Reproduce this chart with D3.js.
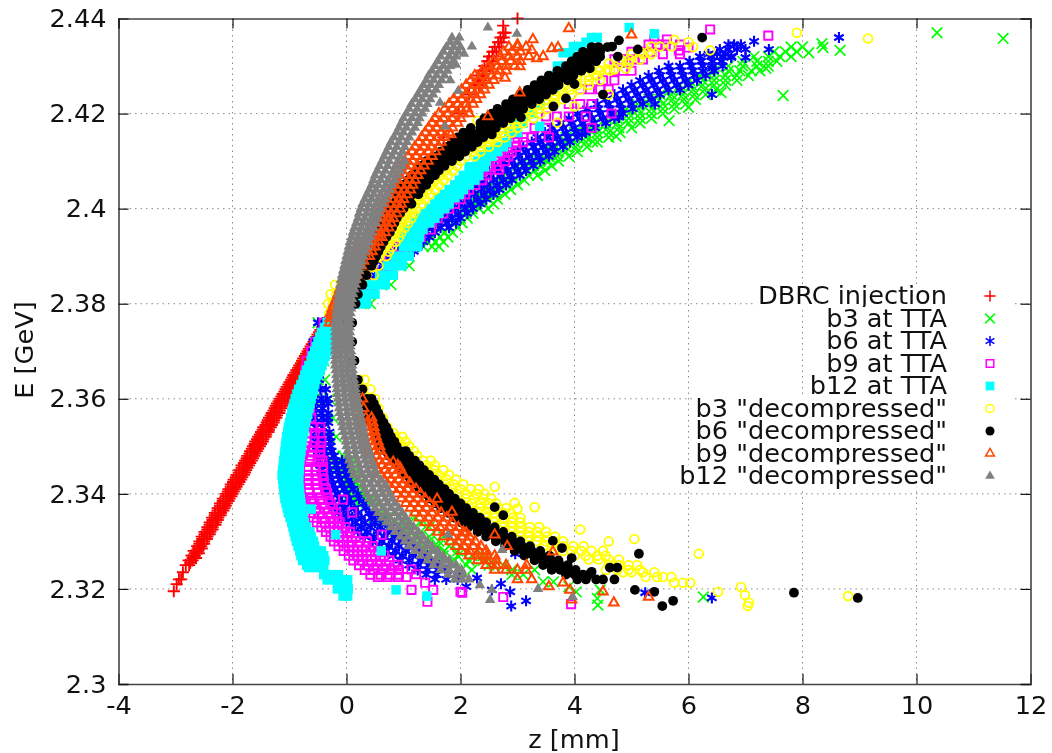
<!DOCTYPE html>
<html>
<head>
<meta charset="utf-8">
<script src="https://cdn.jsdelivr.net/npm/d3@7"></script>
<style>
  html, body { margin: 0; padding: 0; background: #fff; }
  svg { display: block; filter: blur(0.35px); }
  text { font-family: "DejaVu Sans", sans-serif; fill: #111; }
</style>
</head>
<body>
<svg id="chart" width="1052" height="753"></svg>
<script>
// tick labels
var xTicks = [-4, -2, 0, 2, 4, 6, 8, 10, 12];
var yTicks = [2.3, 2.32, 2.34, 2.36, 2.38, 2.4, 2.42, 2.44];

// every row below is [E, z, z, z ...]
var dbrcInjection = [
  [2.3195,-3.03],[2.321,-2.98],[2.322,-2.94,-2.9],[2.3235,-2.87],[2.325,-2.82,-2.76],[2.326,-2.77,-2.7],[2.327,-2.72,-2.66],
  [2.328,-2.68,-2.6],[2.329,-2.62,-2.55],[2.33,-2.58,-2.5],[2.331,-2.54,-2.44],[2.332,-2.49,-2.39],[2.333,-2.44,-2.35],[2.334,-2.4,-2.29],
  [2.335,-2.36,-2.25],[2.336,-2.31,-2.2],[2.337,-2.26,-2.14],[2.338,-2.22,-2.1],[2.339,-2.17,-2.05],[2.34,-2.12,-2.0],[2.341,-2.07,-1.95],
  [2.342,-2.03,-1.9],[2.343,-1.98,-1.85],[2.344,-1.93,-1.8],[2.345,-1.88,-1.76],[2.346,-1.84,-1.71],[2.347,-1.78,-1.66],[2.348,-1.74,-1.62],
  [2.349,-1.69,-1.57],[2.35,-1.64,-1.52],[2.351,-1.6,-1.47],[2.352,-1.55,-1.42],[2.353,-1.5,-1.37],[2.354,-1.46,-1.33],[2.355,-1.4,-1.28],
  [2.356,-1.36,-1.23],[2.357,-1.31,-1.18],[2.358,-1.26,-1.14],[2.359,-1.22,-1.09],[2.36,-1.17,-1.04],[2.361,-1.12,-1.0],[2.362,-1.07,-.95],
  [2.363,-1.02,-.9],[2.364,-.97,-.86],[2.365,-.93,-.81],[2.366,-.88,-.76],[2.367,-.83,-.72],[2.368,-.78,-.67],[2.369,-.73,-.63],
  [2.37,-.68,-.58],[2.371,-.63,-.54],[2.372,-.58,-.49],[2.373,-.53,-.45],[2.374,-.48,-.4],[2.375,-.43,-.36],[2.376,-.38,-.31],
  [2.3255,-2.74],[2.3265,-2.7,-2.64],[2.3275,-2.66,-2.59],[2.3285,-2.61,-2.54],[2.3295,-2.58,-2.5],[2.3305,-2.53,-2.45],[2.3315,-2.49,-2.4],[2.3325,-2.44,-2.35],
  [2.3335,-2.4,-2.3],[2.3345,-2.35,-2.26],[2.3355,-2.31,-2.21],[2.3365,-2.26,-2.16],[2.3375,-2.22,-2.12],[2.3385,-2.17,-2.07],[2.3395,-2.12,-2.02],[2.3405,-2.08,-1.98],
  [2.3415,-2.03,-1.93],[2.3425,-1.99,-1.88],[2.3435,-1.94,-1.83],[2.3445,-1.89,-1.78],[2.3455,-1.84,-1.74],[2.3465,-1.8,-1.69],[2.3475,-1.75,-1.64],[2.3485,-1.7,-1.6],
  [2.3495,-1.66,-1.55],[2.3505,-1.61,-1.5],[2.3515,-1.57,-1.46],[2.3525,-1.52,-1.41],[2.3535,-1.47,-1.36],[2.3545,-1.42,-1.31],[2.3555,-1.38,-1.27],[2.3565,-1.33,-1.22],
  [2.3575,-1.28,-1.17],[2.3585,-1.24,-1.13],[2.3595,-1.19,-1.08],[2.3605,-1.14,-1.03],[2.3615,-1.09,-.99],[2.3625,-1.05,-.94],[2.3635,-1,-.89],[2.3645,-.95,-.85],
  [2.3655,-.9,-.8],[2.3665,-.85,-.76],[2.3675,-.8,-.71],[2.3685,-.76,-.66],[2.3695,-.71,-.62],[2.3705,-.66,-.57],[2.3715,-.61,-.52],[2.3725,-.56,-.48],[2.3735,-.51,-.44],[2.3745,-.46,-.39],[2.3755,-.41,-.35],
  [2.38,-.15],[2.385,.1],[2.39,.36],[2.395,.62],[2.4,.9],[2.405,1.18],[2.41,1.42],[2.415,1.7],[2.42,1.97],[2.424,2.15],[2.426,2.25,2.32],[2.427,2.3,2.36],
  [2.428,2.32,2.4],[2.429,2.38,2.45],[2.43,2.42,2.5],[2.431,2.47,2.55],[2.432,2.5,2.58],[2.433,2.56,2.63],[2.434,2.6,2.68],[2.435,2.66,2.72],[2.436,2.7,2.76],[2.437,2.75,2.79],[2.4385,2.75],[2.44,3.0]
];
var b3Tta = [
  [2.376,-.5],[2.372,-.55,-.45],[2.368,-.55,-.4],[2.364,-.5,-.38],[2.36,-.42,-.3],[2.356,-.34,-.24],[2.352,-.3,-.18],[2.348,-.2,-.06],[2.346,-.15,0],
  [2.344,-.04,.12],[2.342,0,.18],[2.34,.05,.28],[2.338,.2,.4],[2.336,.38,.62],[2.334,.62,.85,1.06,1.3],[2.332,.85,1.1,1.3],[2.33,1.2,1.45,1.62],[2.328,1.5,1.72,1.95],
  [2.326,1.9,2.15,2.4],[2.325,2.5,2.75],[2.324,2.2,2.9,3.3],[2.323,2.9,3.1],[2.3215,3.45,3.63],[2.3205,3.9],[2.3194,4.03],[2.3198,4.45],[2.318,4.4],[2.3166,4.41],[2.3183,6.26],
  [2.347,-.15,0,.1],[2.345,-.1,.05,.15],[2.343,-.02,.12],[2.341,.05,.2,.3],[2.339,.15,.32,.45],[2.337,.3,.5,.62],[2.335,.48,.7,.9,1.2],[2.333,.75,.98,1.2,1.45],[2.331,1.0,1.25,1.45,1.7],[2.329,1.35,1.6,1.8,2.0],[2.327,1.7,1.95,2.2,2.4],[2.325,2.1,2.6],
  [2.38,.3,.42],[2.384,.62,.78],[2.388,.95,1.1],[2.392,1.35,1.5,1.62],[2.394,1.5,1.64,1.78],[2.396,1.66,1.8,1.95],[2.398,1.85,2.0,2.12],[2.4,2.05,2.2,2.33],
  [2.402,2.2,2.38,2.5],[2.404,2.45,2.6,2.72],[2.406,2.62,2.78,2.95],[2.408,2.85,3.0,3.15,3.3],[2.41,3.1,3.25,3.4,3.55],[2.412,3.35,3.5,3.7,3.85],[2.414,3.7,3.85,4.0,4.2],
  [2.416,4.0,4.2,4.4,4.6],[2.418,4.35,4.55,4.75,4.95],[2.42,4.75,4.95,5.15,5.35],[2.422,5.1,5.3,5.55,5.75],[2.424,5.5,5.7,5.9,6.1],[2.426,5.85,6.05,6.25,6.45],
  [2.428,6.2,6.45,6.65,6.85],[2.43,6.7,6.95,7.2],[2.432,7.15,7.4,7.6,7.8],[2.434,7.8,8.0],
  [2.393,1.42,1.56,1.7],[2.395,1.58,1.72,1.86],[2.397,1.75,1.9,2.03],[2.399,1.95,2.1,2.22],[2.401,2.12,2.28,2.42],[2.403,2.32,2.48,2.62],[2.405,2.52,2.68,2.84],[2.407,2.75,2.9,3.05,3.2],[2.409,2.98,3.12,3.28,3.42],
  [2.411,3.22,3.38,3.55,3.7],[2.413,3.52,3.68,3.85,4.02],[2.415,3.85,4.02,4.2,4.4],[2.417,4.18,4.38,4.58,4.78],[2.419,4.55,4.75,4.95,5.15],[2.421,4.92,5.12,5.35,5.55],[2.423,5.3,5.5,5.72,5.92],[2.425,5.68,5.88,6.08,6.28],
  [2.427,6.02,6.25,6.45,6.65],[2.429,6.45,6.7,6.9,7.1],[2.431,6.95,7.2,7.4,7.55],[2.433,7.5,7.7,7.9],
  [2.4,2.48],[2.402,2.65],[2.404,2.88],[2.406,3.12],[2.408,3.48],[2.41,3.72],[2.412,4.05],[2.414,4.4],[2.416,4.8],[2.418,5.15],[2.42,5.55],[2.422,5.95],[2.424,6.3],[2.426,6.65],[2.428,7.05],[2.43,7.4],
  [2.401,2.58],[2.403,2.78],[2.405,3.0],[2.407,3.35],[2.409,3.6],[2.411,3.9],[2.413,4.22],[2.415,4.6],[2.417,5.0],[2.419,5.35],[2.421,5.75],[2.423,6.12],[2.425,6.48],[2.427,6.85],[2.429,7.25],
  [2.4347,8.34],[2.4339,8.36],[2.4328,8.11],[2.4333,8.66],[2.437,10.36],[2.4358,11.52],[2.4238,7.66],[2.4295,7.36],[2.4244,6.57],[2.4213,6.0],[2.4185,5.66],[2.4152,4.73],[2.4141,4.32]
];
var b6Tta = [
  [2.376,-.5,-.42],[2.372,-.58,-.45],[2.368,-.6,-.47],[2.364,-.6,-.48],[2.36,-.56,-.44,-.34],[2.358,-.55,-.42],[2.356,-.55,-.42,-.32],[2.354,-.54,-.42],[2.352,-.54,-.42,-.3],
  [2.35,-.52,-.4,-.28],[2.348,-.5,-.36,-.22],[2.346,-.46,-.32,-.18,-.04],[2.344,-.42,-.28,-.14,0],[2.342,-.38,-.24,-.08,.08],[2.34,-.32,-.16,0,.2],
  [2.338,-.24,-.08,.08,.3],[2.336,-.14,.02,.2,.4,.5],[2.334,0,.16,.32,.5,.68],[2.332,.2,.36,.54,.72,.88],[2.33,.46,.62,.8,.96,1.06],[2.328,.7,.86,1.04,1.22,1.3],
  [2.326,.94,1.1,1.3,1.48],[2.324,1.25,1.42,1.6,1.75],[2.322,1.55,1.75,1.95],
  [2.37,-.6,-.48],[2.366,-.62,-.5],[2.362,-.6,-.46,-.36],[2.359,-.55,-.42,-.32],[2.357,-.56,-.44,-.32],[2.355,-.55,-.42,-.32],[2.353,-.54,-.42,-.3],[2.351,-.53,-.4,-.28],[2.349,-.5,-.38,-.26],[2.347,-.48,-.34,-.2,-.08],
  [2.345,-.44,-.3,-.16,-.02],[2.343,-.4,-.26,-.12,.04],[2.341,-.35,-.2,-.04,.12],[2.339,-.28,-.12,.04,.22],[2.337,-.2,-.04,.14,.34],[2.335,-.06,.1,.26,.44,.58],[2.333,.1,.26,.42,.6,.78],[2.331,.32,.48,.66,.84,1.0],
  [2.329,.58,.74,.92,1.1,1.2],[2.327,.82,.98,1.16,1.34,1.42],[2.325,1.1,1.26,1.44,1.62],[2.323,1.4,1.58,1.78,1.95],
  [2.3274,2.96],[2.3223,2.29],[2.3205,2.1],[2.3211,2.71],[2.3198,2.55],[2.3194,2.87],[2.3164,2.89],[2.3175,3.15],[2.3192,5.24],[2.3181,6.41],
  [2.38,.05,.15],[2.384,.35,.48],[2.386,.5,.65],[2.388,.65,.8],[2.39,.78,.95],[2.392,.92,1.1,1.25],[2.394,1.1,1.28,1.45],[2.396,1.32,1.5,1.65],[2.398,1.5,1.68,1.85],[2.4,1.72,1.9,2.08],
  [2.402,1.95,2.12,2.3],[2.404,2.2,2.36,2.52],[2.406,2.4,2.58,2.75],[2.408,2.65,2.82,3.0],[2.41,2.9,3.08,3.25],[2.412,3.15,3.32,3.5],[2.414,3.4,3.58,3.75],[2.416,3.65,3.85,4.02],
  [2.418,3.95,4.15,4.35],[2.42,4.25,4.45,4.65],[2.422,4.6,4.8,5.0],[2.424,4.9,5.1,5.3],[2.426,5.2,5.4,5.6,5.8],[2.428,5.5,5.7,5.9,6.1],[2.43,5.85,6.05,6.25,6.42],[2.432,6.2,6.4,6.6,6.75],
  [2.385,.42,.56],[2.387,.58,.72],[2.389,.7,.86],[2.391,.85,1.02,1.18],[2.393,1.0,1.18,1.35],[2.395,1.2,1.38,1.55],[2.397,1.42,1.6,1.76],[2.399,1.6,1.78,1.96],[2.401,1.82,2.0,2.18],[2.403,2.06,2.24,2.42],
  [2.405,2.3,2.46,2.64],[2.407,2.52,2.7,2.88],[2.409,2.78,2.95,3.12],[2.411,3.02,3.2,3.38],[2.413,3.28,3.45,3.62],[2.415,3.52,3.7,3.88],[2.417,3.8,4.0,4.18],[2.419,4.1,4.3,4.5],[2.421,4.42,4.62,4.82],[2.423,4.75,4.95,5.15],
  [2.425,5.05,5.25,5.45,5.65],[2.427,5.35,5.55,5.75,5.95],[2.429,5.68,5.88,6.08,6.25],[2.431,6.02,6.22,6.42,6.58],[2.4325,6.35,6.5,6.65],
  [2.396,1.2,1.8],[2.398,1.38,2.0],[2.4,1.6,2.22],[2.402,1.82,2.45],[2.404,2.05,2.68],[2.406,2.25,2.9],[2.408,2.5,3.15],[2.41,2.75,3.4],[2.412,3.0,3.65],[2.414,3.25,3.92],[2.416,3.48,4.2],[2.418,3.75,4.55],[2.42,4.05,4.85],[2.422,4.4,5.2],[2.424,4.7,5.5],[2.426,5.0,6.0],[2.428,5.3,6.3],[2.43,5.65,6.6],
  [2.397,1.28,1.92],[2.399,1.45,2.12],[2.401,1.68,2.35],[2.403,1.9,2.58],[2.405,2.14,2.8],[2.407,2.38,3.04],[2.409,2.62,3.28],[2.411,2.85,3.55],[2.413,3.1,3.8],[2.415,3.35,4.05],[2.417,3.6,4.36],[2.419,3.9,4.7],[2.421,4.22,5.02],[2.423,4.55,5.35],[2.425,4.85,5.85],[2.427,5.15,6.15],[2.429,5.48,6.45],
  [2.4335,6.55,6.7,6.85,7.0],[2.4345,6.7,6.8,6.92],[2.4352,7.15],[2.4335,7.41],[2.4318,7.0],[2.4318,6.75],[2.4295,6.41],[2.424,6.41],[2.436,8.64],[2.4156,4.13],[2.4192,4.78],[2.422,5.41]
];
var b9Tta = [
  [2.376,-.4],[2.372,-.55],[2.37,-.62],[2.368,-.7],[2.364,-.75,-.64],[2.36,-.78,-.66],[2.356,-.76,-.62],[2.3528,-.69,-.56,-.46],[2.35,-.72,-.58,-.46],[2.348,-.78,-.62,-.46],[2.3457,-.82,-.68,-.54,-.41],
  [2.344,-.82,-.68,-.54,-.42],[2.342,-.82,-.68,-.54,-.4],[2.3402,-.82,-.66,-.5,-.34],[2.338,-.72,-.58,-.42,-.28],[2.336,-.64,-.48,-.32,-.18],[2.334,-.52,-.38,-.22,-.12],[2.332,-.36,-.22,-.06,.06],
  [2.33,-.22,-.06,.1,.24,.36],[2.328,-.05,.12,.28,.42,.55],[2.326,.12,.28,.44,.6,.75],[2.324,.32,.48,.64,.8,.92],[2.3225,.55,.72,.9,1.05],
  [2.366,-.72,-.6],[2.362,-.76,-.64],[2.358,-.78,-.64],[2.354,-.72,-.58,-.46],[2.351,-.7,-.56,-.44],[2.349,-.75,-.6,-.46],[2.347,-.8,-.65,-.5,-.42],[2.345,-.82,-.68,-.54,-.42],[2.343,-.82,-.68,-.52,-.4],[2.341,-.82,-.66,-.52,-.36],
  [2.339,-.78,-.62,-.46,-.32],[2.337,-.68,-.54,-.38,-.24],[2.335,-.58,-.42,-.28,-.16],[2.333,-.44,-.3,-.14,-.02],[2.331,-.28,-.14,.02,.16],[2.329,-.14,.04,.2,.34,.46],[2.327,.04,.2,.36,.5,.66],[2.325,.22,.38,.54,.7,.84],[2.323,.42,.6,.76,.92],
  [2.3388,-.06],[2.3361,.1],[2.3314,.62],[2.3251,.9],[2.3241,1.14],[2.3231,1.22],[2.3198,1.14],[2.3213,1.38],[2.3198,1.52],[2.3173,1.42],[2.3194,2.0],[2.3192,2.03],[2.3183,2.75],[2.3168,3.94],
  [2.38,.0,.12],[2.384,.3,.42],[2.388,.6,.74],[2.392,.88,1.02],[2.3956,1.2,1.34,1.48],[2.398,1.45,1.6],[2.4,1.65,1.8],[2.402,1.85,2.0],[2.404,2.0,2.15],[2.406,2.22,2.38],[2.4082,2.38,2.52,2.68],
  [2.41,2.6,2.78],[2.412,2.75,2.9],[2.415,3.0,3.1,3.25],[2.417,3.3,3.5],[2.4194,3.5,3.69,3.9,4.2],[2.422,3.9,4.1,4.3],[2.4251,4.1,4.27,4.45,4.6],[2.427,4.5,4.7],[2.429,4.7,4.85,5.0],
  [2.382,.18,.3],[2.386,.45,.6],[2.39,.75,.88],[2.394,1.02,1.15,1.3],[2.397,1.35,1.5],[2.399,1.55,1.7],[2.401,1.75,1.9],[2.403,1.92,2.08],[2.405,2.1,2.26],[2.407,2.3,2.46],[2.409,2.48,2.64],[2.411,2.68,2.84],[2.413,2.82,2.98],[2.414,2.95,3.1],
  [2.4314,4.7,4.85,5.05,5.2],[2.433,5.0,5.2,5.35],[2.4345,5.3,5.45,5.6],[2.4356,5.62,5.4],[2.4325,5.85,5.55],[2.4377,6.38],[2.4364,7.4],[2.4339,6.0],[2.4333,5.83],[2.4345,5.85],[2.42,4.65],[2.417,4.3],[2.415,3.55]
];
var b12Tta = [
  [2.378,-.25],[2.376,-.34,-.2,-.12],[2.374,-.44,-.32,-.22],[2.372,-.5,-.4,-.3],[2.37,-.56,-.44,-.34],[2.368,-.62,-.5,-.4],[2.366,-.7,-.58,-.46],[2.364,-.76,-.64,-.54],[2.362,-.84,-.7,-.58],
  [2.36,-.9,-.76,-.62],[2.358,-.94,-.8,-.66],[2.356,-.98,-.84,-.7],[2.354,-1.02,-.88,-.74],[2.352,-1.05,-.91,-.77],[2.35,-1.07,-.93,-.79],[2.348,-1.09,-.95,-.81],[2.346,-1.11,-.97,-.83],
  [2.344,-1.13,-.99,-.84],[2.342,-1.11,-.97,-.84],[2.34,-1.09,-.95,-.82],[2.338,-1.06,-.92,-.8],[2.336,-1.02,-.88,-.78],[2.334,-.96,-.84,-.74],[2.332,-.92,-.78,-.64],[2.33,-.88,-.74,-.58],
  [2.328,-.82,-.68,-.54,-.44],[2.326,-.77,-.62,-.48,-.38],[2.3245,-.66,-.54,-.4],[2.323,-.4,-.26,-.14],[2.3219,-.34,-.2,-.05,.02],[2.32,-.16,-.05,.03],[2.3185,-.06,.02],
  [2.377,-.3,-.16],[2.375,-.38,-.27,-.16],[2.373,-.47,-.36,-.26],[2.371,-.53,-.42,-.32],[2.369,-.6,-.48,-.37],[2.367,-.66,-.54,-.43],[2.365,-.73,-.61,-.5],[2.363,-.8,-.67,-.56],[2.361,-.87,-.73,-.6],
  [2.359,-.92,-.78,-.64],[2.357,-.96,-.82,-.68],[2.355,-1.0,-.86,-.72],[2.353,-1.03,-.89,-.75],[2.351,-1.06,-.92,-.78],[2.349,-1.08,-.94,-.8],[2.347,-1.1,-.96,-.82],[2.345,-1.12,-.98,-.83],[2.343,-1.12,-.98,-.84],
  [2.341,-1.1,-.96,-.83],[2.339,-1.08,-.94,-.81],[2.337,-1.04,-.9,-.79],[2.335,-.99,-.86,-.76],[2.333,-.94,-.8,-.7],[2.331,-.9,-.76,-.62],[2.329,-.85,-.71,-.56],[2.327,-.8,-.66,-.5,-.4],[2.325,-.7,-.56,-.42],
  [2.3368,-.62],[2.3314,-.19],[2.328,.61],[2.3198,.87],[2.3185,1.41],
  [2.38,.1,.22,.35],[2.382,.25,.38,.5],[2.384,.42,.55,.68],[2.386,.58,.7,.82],[2.388,.72,.85,.98],[2.39,.85,.98,1.1],[2.392,1.0,1.12,1.25],[2.394,1.0,1.14,1.28],[2.3956,1.06,1.2,1.34],[2.397,1.2,1.34,1.46],[2.398,1.3,1.44,1.55],[2.399,1.38,1.52,1.62],[2.4,1.45,1.6,1.72],[2.401,1.55,1.68,1.8],[2.4023,1.62,1.76,1.9],[2.403,1.72,1.86,1.98],[2.404,1.8,1.95,2.05],[2.405,1.9,2.02,2.15],
  [2.406,1.98,2.1,2.25],[2.407,2.05,2.2,2.32],[2.4088,2.15,2.28,2.42],[2.41,2.3,2.45],[2.411,2.4,2.55],[2.412,2.5,2.65],[2.413,2.6,2.75],[2.4139,2.81],[2.416,2.85,3.0],[2.4173,3.39],[2.418,2.95,3.1],[2.42,3.1,3.25],[2.422,3.2,3.4],[2.424,3.3,3.5],
  [2.4257,3.5,3.65],[2.428,3.6,3.75],[2.43,3.7,3.85],[2.4328,3.8,3.92],[2.4341,3.98,4.1],[2.435,4.2],[2.436,4.3,4.4],[2.4381,4.96],[2.4368,5.4],[2.4295,4.02]
];
var b3Dec = [
  [2.378,-.3,-.2],[2.38,-.32,-.24],[2.382,-.28,-.18],[2.384,-.2,-.1],[2.386,.2,.35,.48],[2.388,.32,.45,.56],[2.39,.44,.58,.7],[2.392,.55,.68,.8],[2.394,.68,.8,.92],[2.396,.8,.92,1.02],[2.398,.9,1.02,1.14],
  [2.4,1.02,1.14,1.22],[2.402,1.14,1.28,1.38],[2.404,1.28,1.42,1.55],[2.406,1.42,1.55,1.7],[2.408,1.58,1.72,1.86],[2.41,1.72,1.86,2.0],[2.412,1.92,2.06,2.2,2.35],[2.414,2.2,2.35,2.5,2.65],[2.416,2.45,2.6,2.75,2.9],
  [2.418,2.7,2.85,3.0,3.1],[2.42,2.95,3.1,3.25,3.4],[2.422,3.2,3.35,3.5,3.65],[2.424,3.5,3.65,3.8,3.95],[2.426,3.65,3.85,4.05,4.25],[2.428,4.05,4.25,4.4],[2.4293,4.4,4.57,4.7],[2.4314,4.8,4.97,5.15],[2.433,5.15,5.3],[2.4341,5.35,5.5,5.7],
  [2.391,.5,.62,.74],[2.393,.62,.74,.86],[2.395,.74,.86,.96],[2.397,.85,.97,1.08],[2.399,.96,1.08,1.18],[2.401,1.08,1.2,1.32],[2.403,1.2,1.34,1.46],[2.405,1.35,1.48,1.62],[2.407,1.5,1.64,1.78],[2.409,1.65,1.8,1.94],[2.411,1.82,1.96,2.1,2.25],
  [2.413,2.05,2.2,2.35,2.5],[2.415,2.32,2.48,2.62,2.78],[2.417,2.58,2.72,2.88,3.0],[2.419,2.82,2.98,3.12,3.28],[2.421,3.08,3.22,3.38,3.52],[2.423,3.35,3.5,3.65,3.8],[2.425,3.58,3.75,3.92,4.1],[2.427,3.85,4.05,4.25,4.45],[2.429,4.3,4.45,4.62],[2.4305,4.6,4.78,4.95],[2.4325,5.0,5.2,5.35],
  [2.4295,4.9],[2.424,4.6],[2.4215,4.0],[2.4181,3.7],[2.4185,2.3],[2.4145,2.55],[2.437,7.9],[2.4358,9.15],[2.435,6.0],[2.4333,6.38],[2.434,6.08],[2.4355,5.75],
  [2.372,.08],[2.364,.22,.32],[2.362,.3,.42],[2.36,.4,.5],[2.358,.46,.56],[2.356,.52,.64],[2.354,.6,.72],[2.352,.72,.86,.98],[2.3528,.82],[2.35,.84,.98,1.1],[2.348,.98,1.1,1.24],
  [2.346,1.12,1.26,1.4,1.55],[2.344,1.3,1.46,1.62,1.8],[2.342,1.55,1.72,1.88,2.05],[2.34,1.8,1.95,2.1,2.28,2.42],[2.338,2.02,2.2,2.35,2.5,2.62],[2.336,2.3,2.45,2.6,2.75,2.88],[2.334,2.58,2.75,2.9,3.05],
  [2.332,2.9,3.05,3.2,3.35,3.5],[2.33,3.2,3.35,3.5,3.65,3.8],[2.328,3.6,3.8,3.95,4.12,4.3,4.5],[2.3262,4.25,4.42,4.6,4.78],[2.325,4.6,4.78,4.95,5.1],[2.3235,4.85,5.0,5.2,5.4],[2.3225,5.25,5.45,5.55,5.7],[2.3213,5.75,5.9,6.03],
  [2.351,.78,.92,1.04],[2.349,.9,1.04,1.18],[2.347,1.05,1.2,1.34,1.48],[2.345,1.22,1.38,1.54,1.7],[2.343,1.42,1.6,1.76,1.92],[2.341,1.68,1.84,2.0,2.18,2.32],[2.339,1.9,2.08,2.24,2.4,2.54],[2.337,2.16,2.34,2.5,2.66,2.8],
  [2.335,2.44,2.6,2.76,2.92,3.05],[2.333,2.75,2.9,3.06,3.22,3.38],[2.331,3.05,3.2,3.36,3.52,3.66],[2.329,3.45,3.6,3.8,3.98,4.16],[2.327,4.0,4.2,4.4,4.55],[2.324,4.55,4.75,4.95,5.15],
  [2.3274,6.18],[2.3194,6.52],[2.3204,6.92],[2.3187,6.99],[2.3171,7.06],[2.3164,7.04],[2.3185,8.8],[2.3325,4.1],[2.33,4.6],[2.3381,2.95],[2.3415,2.6],[2.3369,3.0],[2.3305,5.05],[2.3372,3.3]
];
var b6Dec = [
  [2.434,4.3,4.42,4.58],[2.432,4.05,4.2,4.32,4.45],[2.43,3.85,4.0,4.15],[2.428,3.55,3.7,3.85,3.98],[2.426,3.3,3.45,3.6,3.72],[2.424,3.05,3.2,3.35,3.5],[2.422,2.8,2.95,3.1,3.25],
  [2.42,2.55,2.7,2.85,3.0],[2.418,2.35,2.5,2.65,2.75],[2.416,2.05,2.2,2.35,2.5],[2.414,1.85,2.0,2.15,2.3],[2.412,1.65,1.8,1.95,2.08],[2.41,1.4,1.55,1.7,1.85],[2.408,1.22,1.36,1.5,1.62],
  [2.406,1.08,1.22,1.35,1.45],[2.404,.95,1.08,1.2,1.3],[2.402,.88,1.0,1.1],[2.4,.75,.88,1.0],[2.398,.66,.78,.88],[2.396,.6,.7,.8],[2.394,.5,.6,.7],[2.392,.4,.5,.6],[2.39,.33,.44,.52],
  [2.388,.25,.35,.44],[2.386,.16,.27,.35],[2.384,.1,.2,.28],[2.382,.05,.14,.2],[2.38,.02,.1,.16],[2.376,.02,.1],[2.372,.02,.1],[2.368,.05,.14],[2.364,.1,.2],[2.362,.18,.28],[2.36,.25,.36,.44],
  [2.433,4.15,4.3,4.45],[2.431,3.95,4.1,4.25,4.38],[2.429,3.7,3.85,4.0,4.12],[2.427,3.42,3.58,3.72,3.88],[2.425,3.18,3.32,3.48,3.62],[2.423,2.92,3.08,3.22,3.38],[2.421,2.65,2.8,2.95,3.1],[2.419,2.42,2.58,2.72,2.88],[2.417,2.18,2.35,2.5,2.62],
  [2.415,1.95,2.1,2.25,2.4],[2.413,1.75,1.9,2.05,2.2],[2.411,1.52,1.68,1.82,1.98],[2.409,1.3,1.45,1.6,1.72],[2.407,1.14,1.28,1.42,1.55],[2.405,1.0,1.14,1.28,1.4],[2.403,.9,1.04,1.16,1.26],[2.401,.82,.94,1.06,1.14],[2.399,.7,.82,.94],[2.397,.62,.74,.84],[2.395,.55,.65,.76],[2.393,.45,.55,.65],[2.391,.36,.47,.56],[2.389,.28,.4,.48],
  [2.358,.3,.42,.52],[2.356,.38,.5,.6],[2.354,.46,.58,.7],[2.352,.55,.66,.78],[2.35,.62,.75,.88],[2.348,.74,.88,1.0,1.1],[2.346,.9,1.02,1.16,1.28],[2.344,1.04,1.18,1.32,1.45],[2.342,1.2,1.34,1.5,1.62],
  [2.34,1.38,1.52,1.66,1.8],[2.338,1.56,1.7,1.85,2.0],[2.336,1.78,1.92,2.08,2.22],[2.334,2.0,2.15,2.3,2.45],[2.332,2.3,2.45,2.6,2.75],[2.33,2.62,2.78,2.92,3.05],[2.328,2.95,3.1,3.25,3.4],
  [2.326,3.3,3.45,3.6,3.72],[2.324,3.6,3.75,3.9,4.02],[2.322,4.05,4.2,4.38,4.5,4.7],
  [2.359,.28,.4,.48],[2.357,.34,.46,.56],[2.355,.42,.54,.65],[2.353,.5,.62,.74],[2.351,.58,.7,.84],[2.349,.68,.82,.94,1.04],[2.347,.82,.95,1.08,1.2],[2.345,.96,1.1,1.24,1.36],[2.343,1.12,1.26,1.4,1.54],[2.341,1.28,1.42,1.58,1.72],
  [2.339,1.46,1.6,1.76,1.9],[2.337,1.66,1.82,1.96,2.1],[2.335,1.88,2.02,2.18,2.34],[2.333,2.14,2.3,2.45,2.6],[2.331,2.45,2.6,2.76,2.9],[2.329,2.78,2.94,3.08,3.22],[2.327,3.12,3.28,3.42,3.56],[2.325,3.45,3.6,3.75,3.88],[2.323,3.85,4.0,4.15,4.25],
  [2.3245,4.62,4.75],[2.3274,5.13],[2.3194,5.4],[2.3198,5.06],[2.3164,5.54],[2.3175,5.73],[2.3192,7.85],[2.3181,8.97],[2.3372,2.6],[2.3355,2.75],[2.3286,3.78],[2.3265,3.95],[2.3236,4.3],[2.3301,3.62],
  [2.4354,4.78],[2.4341,4.66],[2.432,4.76],[2.4335,5.11],[2.4295,4.27],[2.424,4.5],[2.4215,3.63],[2.4192,3.06],[2.4156,2.55],[2.436,6.24],[2.4232,3.85],[2.4262,4.0]
];
var b9Dec = [
  [2.434,2.85,3.0,3.15],[2.432,2.7,2.85,3.0,3.2],[2.43,2.5,2.65,2.8,2.95],[2.428,2.25,2.4,2.55,2.65],[2.426,2.1,2.25,2.4,2.5],[2.424,1.95,2.1,2.25,2.35],[2.422,1.8,1.95,2.1,2.22],
  [2.42,1.62,1.78,1.92,2.05,2.15],[2.418,1.5,1.65,1.8,1.95],[2.416,1.38,1.52,1.66,1.8],[2.414,1.27,1.4,1.54,1.66],[2.412,1.15,1.3,1.44,1.56],[2.41,1.02,1.16,1.3,1.43],[2.408,.95,1.08,1.2,1.3],
  [2.406,.86,.98,1.1,1.2],[2.404,.78,.9,1.02,1.12],[2.402,.68,.8,.92,1.0],[2.4,.6,.72,.84,.94],[2.398,.52,.64,.75,.82],[2.396,.44,.56,.66,.74],[2.394,.34,.46,.56,.62],[2.392,.24,.34,.44,.5],
  [2.39,.15,.25,.34,.4],[2.388,.08,.18,.26],[2.386,0,.08,.16],[2.384,-.08,0,.08],[2.382,-.15,-.06],[2.38,-.22,-.14,-.05],[2.378,-.28,-.2],[2.376,-.3,-.22],
  [2.433,2.75,2.9,3.05],[2.431,2.58,2.72,2.88,3.05],[2.429,2.38,2.52,2.68,2.8],[2.427,2.18,2.32,2.46,2.58],[2.425,2.02,2.18,2.32,2.42],[2.423,1.88,2.02,2.18,2.28],[2.421,1.72,1.86,2.0,2.12],[2.419,1.55,1.7,1.85,2.0],[2.417,1.44,1.58,1.72,1.86],
  [2.415,1.32,1.46,1.6,1.72],[2.413,1.2,1.35,1.48,1.62],[2.411,1.08,1.22,1.36,1.5],[2.409,.98,1.12,1.25,1.36],[2.407,.9,1.02,1.15,1.25],[2.405,.82,.94,1.06,1.16],[2.403,.72,.85,.96,1.06],[2.401,.64,.76,.88,.96],[2.399,.56,.68,.78,.88],
  [2.397,.48,.6,.7,.78],[2.395,.38,.5,.6,.68],[2.393,.28,.4,.5,.56],[2.391,.2,.3,.38,.45],[2.389,.12,.22,.3],[2.387,.04,.13,.2],[2.385,-.04,.05,.12],[2.383,-.12,-.03],[2.381,-.18,-.1],[2.379,-.25,-.17],[2.377,-.29,-.21],
  [2.36,.18,.28],[2.358,.2,.3],[2.356,.24,.34,.44],[2.354,.27,.38,.48],[2.352,.3,.42,.52],[2.35,.36,.46,.58],[2.348,.42,.52,.64],[2.346,.5,.62,.76,.9],[2.344,.6,.72,.86,.98],[2.342,.72,.84,.98,1.12],
  [2.34,.88,1.02,1.16,1.3],[2.338,1.04,1.18,1.32,1.46],[2.336,1.2,1.34,1.5,1.66],[2.334,1.38,1.54,1.7,1.86],[2.332,1.6,1.76,1.92,2.05],[2.33,1.82,1.96,2.12,2.26],[2.328,2.02,2.16,2.32,2.45],
  [2.355,.26,.36,.46],[2.353,.29,.4,.5],[2.351,.33,.44,.55],[2.349,.38,.5,.6],[2.347,.46,.58,.7],[2.345,.55,.68,.82,.95],[2.343,.66,.78,.92,1.05],[2.341,.8,.93,1.07,1.22],[2.339,.96,1.1,1.24,1.38],[2.337,1.12,1.26,1.4,1.56],
  [2.335,1.28,1.44,1.6,1.76],[2.333,1.48,1.64,1.8,1.96],[2.331,1.7,1.86,2.02,2.16],[2.329,1.92,2.06,2.22,2.36],[2.327,2.15,2.3,2.46,2.6],[2.325,2.45,2.62,2.8],
  [2.326,2.3,2.46,2.62],[2.324,2.6,2.8,3.0,3.15],[2.322,3.0,3.25],[2.3314,2.6],[2.329,2.82],[2.325,3.16],[2.3278,3.62],[2.3213,3.8],[2.3198,3.92],[2.3194,4.5],[2.3171,4.69],[2.3183,5.3],[2.3177,3.95],[2.3205,3.55],
  [2.3467,.82],[2.3455,.94],[2.3423,1.11],[2.3389,1.59],[2.3362,1.85],[2.3318,2.1],
  [2.4379,3.9],[2.4366,5.0],[2.4356,3.27],[2.4345,3.0],[2.4337,3.6],[2.4339,3.71],[2.432,3.45],[2.4316,3.34],[2.4333,3.25],[2.4299,3.04],[2.4244,3.04],[2.4275,2.78],[2.4194,2.48],[2.4156,1.83],[2.4019,.92],[2.3979,.71],[2.3941,.57]
];
var b12Dec = [
  [2.436,1.85,1.98],[2.434,1.75,1.88,2.0],[2.432,1.65,1.8,1.92],[2.43,1.55,1.7,1.82],[2.428,1.44,1.58,1.72],[2.426,1.35,1.48,1.62],[2.424,1.25,1.38,1.52],[2.422,1.14,1.28,1.42],[2.42,1.05,1.2,1.33],
  [2.418,.96,1.1,1.25],[2.416,.88,1.0,1.15],[2.414,.78,.92,1.06],[2.412,.7,.84,.98],[2.41,.62,.75,.9,1.02],[2.408,.54,.68,.82,.94],[2.406,.47,.6,.73,.85],[2.404,.4,.52,.65,.76],[2.402,.32,.44,.56,.68],
  [2.4,.25,.37,.48,.6],[2.398,.2,.32,.44,.54],[2.396,.14,.26,.37,.48],[2.394,.09,.2,.31,.42],[2.392,.04,.15,.26,.36],[2.39,0,.1,.2,.3],[2.388,-.04,.06,.16,.25],[2.386,-.08,.02,.12,.2],[2.384,-.11,-.01,.08,.16],
  [2.382,-.14,-.04,.05,.12],[2.38,-.16,-.07,.02,.09],[2.378,-.18,-.09,0,.07],[2.376,-.2,-.1,0,.06],[2.374,-.2,-.11,-.02,.06],[2.372,-.2,-.11,-.02,.07],[2.37,-.2,-.1,-.01,.08],[2.368,-.2,-.1,0,.1],
  [2.366,-.19,-.09,.01,.11],[2.364,-.18,-.07,.03,.13],[2.362,-.17,-.05,.06,.16],[2.36,-.15,-.03,.08,.19],[2.358,-.13,0,.11,.22],[2.356,-.1,.02,.14,.25],[2.354,-.07,.05,.17,.29],[2.352,-.03,.09,.21,.32],
  [2.35,0,.13,.25,.36],[2.348,.03,.16,.3,.42],[2.346,.08,.22,.35,.47],[2.344,.13,.27,.4,.52],[2.342,.29,.42,.55,.68],[2.34,.36,.5,.63,.76],[2.338,.45,.58,.72,.85],[2.336,.55,.7,.85,.98],
  [2.334,.7,.84,.98,1.1],[2.332,.85,1.0,1.14,1.26],[2.33,1.02,1.17,1.3,1.42],[2.328,1.2,1.35,1.5,1.6],[2.326,1.42,1.56,1.7,1.8],[2.324,1.65,1.8,1.95,2.02],[2.322,1.9,2.03,2.15],
  [2.435,1.82,1.94],[2.433,1.7,1.84,1.96],[2.431,1.6,1.75,1.87],[2.429,1.5,1.64,1.77],[2.427,1.4,1.53,1.67],[2.425,1.3,1.43,1.57],[2.423,1.2,1.33,1.47],[2.421,1.1,1.24,1.38],[2.419,1.0,1.15,1.28],[2.417,.92,1.05,1.2],[2.415,.83,.96,1.1],
  [2.413,.74,.88,1.02],[2.411,.66,.8,.94],[2.409,.58,.72,.86,.98],[2.407,.5,.64,.78,.9],[2.405,.44,.56,.69,.8],[2.403,.36,.48,.6,.72],[2.401,.28,.4,.52,.64],[2.399,.22,.35,.46,.57],[2.397,.17,.29,.4,.51],[2.395,.11,.23,.34,.45],
  [2.393,.06,.17,.28,.39],[2.391,.02,.12,.23,.33],[2.389,-.02,.08,.18,.27],[2.387,-.06,.04,.14,.22],[2.385,-.1,0,.1,.18],[2.383,-.12,-.02,.06,.14],[2.381,-.15,-.05,.03,.1],[2.379,-.17,-.08,.01,.08],[2.377,-.19,-.09,0,.06],[2.375,-.2,-.1,-.01,.06],
  [2.373,-.2,-.11,-.02,.06],[2.371,-.2,-.1,-.01,.07],[2.369,-.2,-.1,0,.09],[2.367,-.2,-.09,.01,.1],[2.365,-.18,-.08,.02,.12],[2.363,-.17,-.06,.05,.15],[2.361,-.16,-.04,.07,.17],[2.359,-.14,-.02,.1,.2],[2.357,-.12,.01,.12,.24],[2.355,-.08,.04,.16,.27],
  [2.353,-.05,.07,.19,.3],[2.351,-.01,.11,.23,.34],[2.349,.02,.15,.27,.39],[2.347,.05,.19,.32,.44],[2.345,.1,.24,.37,.5],[2.343,.2,.33,.46,.6],[2.341,.32,.46,.6,.72],[2.339,.4,.54,.68,.8],[2.337,.5,.64,.78,.92],[2.335,.62,.76,.92,1.04],
  [2.333,.78,.92,1.06,1.18],[2.331,.94,1.08,1.22,1.34],[2.329,1.1,1.26,1.4,1.5],[2.327,1.3,1.45,1.6,1.7],[2.325,1.52,1.68,1.82,1.92],[2.323,1.78,1.92,2.05],
  [2.3282,2.73],[2.3208,2.34],[2.3198,2.55],[2.3177,2.52],[2.32,3.36],[2.3183,3.97],[2.3314,1.78],
  [2.4381,2.48],[2.4368,2.99],[2.4341,2.2],[2.4326,2.06],[2.4303,1.92],[2.4248,1.96],[2.4223,1.64],[2.4173,1.73],[2.427,1.82]
];

var seriesNames = ["DBRC injection", "b3 at TTA", "b6 at TTA", "b9 at TTA", "b12 at TTA", 'b3 "decompressed"', 'b6 "decompressed"', 'b9 "decompressed"', 'b12 "decompressed"'];
var seriesRows = [dbrcInjection, b3Tta, b6Tta, b9Tta, b12Tta, b3Dec, b6Dec, b9Dec, b12Dec];
var seriesColors = ["#ff0000", "#00ff00", "#0000ff", "#ff00ff", "#00ffff", "#ffff00", "#000000", "#ff4500", "#808080"];
var seriesSymbols = [d3.symbolPlus, d3.symbolTimes, d3.symbolAsterisk, d3.symbolSquare2, d3.symbolSquare, d3.symbolCircle, d3.symbolCircle, d3.symbolTriangle2, d3.symbolTriangle];
var seriesFilled = [false, false, false, false, true, false, true, false, true];
var seriesSizes = [50, 75, 85, 85, 90, 60, 75, 65, 48];
var seriesStrokes = [1.9, 1.7, 2.1, 1.9, 0, 1.9, 0, 2, 0];
var fontSize = "25.6px";

var svg = d3.select("#chart");

var margin = {top: 18.5, right: 1030.5, bottom: 684, left: 118.5};

var x = d3.scaleLinear().domain([-4, 12]).range([margin.left, margin.right]);
var y = d3.scaleLinear().domain([2.3, 2.44]).range([margin.bottom, margin.top]);

// grid
var grid = svg.append("g").attr("class", "grid");
grid.selectAll(".gx")
  .data(xTicks.slice(1, -1))
  .enter().append("line")
  .attr("x1", function(d) {return x(d);})
  .attr("x2", function(d) {return x(d);})
  .attr("y1", margin.top)
  .attr("y2", margin.bottom);
grid.selectAll(".gy")
  .data(yTicks.slice(1, -1))
  .enter().append("line")
  .attr("x1", margin.left)
  .attr("x2", margin.right)
  .attr("y1", function(d) {return y(d);})
  .attr("y2", function(d) {return y(d);});
grid.selectAll("line")
  .attr("stroke", "#8a8a8a")
  .attr("stroke-width", 1)
  .attr("stroke-dasharray", "1.5,4");

// points, first series at the bottom
seriesRows.forEach(function(rows, i) {
  var points = [];
  rows.forEach(function(row) {
    row.slice(1).forEach(function(z) { points.push({z: z, e: row[0]}); });
  });
  var path = d3.symbol().type(seriesSymbols[i]).size(seriesSizes[i])();
  svg.append("g")
    .selectAll("path")
    .data(points)
    .enter().append("path")
    .attr("d", path)
    .attr("transform", function(d) {return "translate(" + x(d.z) + "," + y(d.e) + ")";})
    .attr("fill", seriesFilled[i] ? seriesColors[i] : "none")
    .attr("stroke", seriesFilled[i] ? "none" : seriesColors[i])
    .attr("stroke-width", seriesStrokes[i]);
});

// legend, each row has a white box behind it
var legendY = d3.scalePoint().domain(seriesNames).range([296, 476]);
var legend = svg.append("g").attr("class", "legend");
var rowsG = legend.selectAll("g")
  .data(seriesNames)
  .enter().append("g")
  .attr("transform", function(d) {return "translate(0," + legendY(d) + ")";});
rowsG.append("text")
  .attr("x", 947)
  .attr("y", 8)
  .attr("text-anchor", "end")
  .style("font-size", fontSize)
  .text(function(d) {return d;});
rowsG.insert("rect", "text")
  .attr("x", function() {
    return this.parentNode.querySelector("text").getBBox().x - 3;
  })
  .attr("y", -11.5)
  .attr("width", function() {
    return 1018 - this.parentNode.querySelector("text").getBBox().x;
  })
  .attr("height", 23)
  .attr("fill", "#fff");
rowsG.append("path")
  .attr("d", function(d, i) {return d3.symbol().type(seriesSymbols[i]).size(seriesSizes[i] * 0.85)();})
  .attr("transform", "translate(990,0)")
  .attr("fill", function(d, i) {return seriesFilled[i] ? seriesColors[i] : "none";})
  .attr("stroke", function(d, i) {return seriesFilled[i] ? "none" : seriesColors[i];})
  .attr("stroke-width", 1.5);

// axes
var axisBottom = d3.axisBottom(x).tickValues(xTicks).tickSize(-10).tickPadding(12).tickFormat(function(d) {return String(d);});
var axisLeft = d3.axisLeft(y).tickValues(yTicks).tickSize(-10).tickPadding(12).tickFormat(function(d) {return String(d);});
var axisTop = d3.axisTop(x).tickValues(xTicks).tickSize(-10).tickFormat("");
var axisRight = d3.axisRight(y).tickValues(yTicks).tickSize(-10).tickFormat("");

var gBottom = svg.append("g").attr("transform", "translate(0," + margin.bottom + ")").call(axisBottom);
var gLeft = svg.append("g").attr("transform", "translate(" + margin.left + ",0)").call(axisLeft);
var gTop = svg.append("g").attr("transform", "translate(0," + margin.top + ")").call(axisTop);
var gRight = svg.append("g").attr("transform", "translate(" + margin.right + ",0)").call(axisRight);

[gBottom, gLeft, gTop, gRight].forEach(function(g) {
  g.selectAll(".domain").attr("stroke", "#444").attr("stroke-width", 1.6);
  g.selectAll(".tick line").attr("stroke", "#111").attr("stroke-width", 1.2);
  g.selectAll("text").style("font-size", fontSize).style("font-family", '"DejaVu Sans", sans-serif').attr("fill", "#111");
});

// axis titles
svg.append("text")
  .attr("x", 574)
  .attr("y", 748)
  .attr("text-anchor", "middle")
  .style("font-size", fontSize)
  .text("z [mm]");
svg.append("text")
  .attr("transform", "translate(33,350) rotate(-90)")
  .attr("text-anchor", "middle")
  .style("font-size", fontSize)
  .text("E [GeV]");
</script>
</body>
</html>
